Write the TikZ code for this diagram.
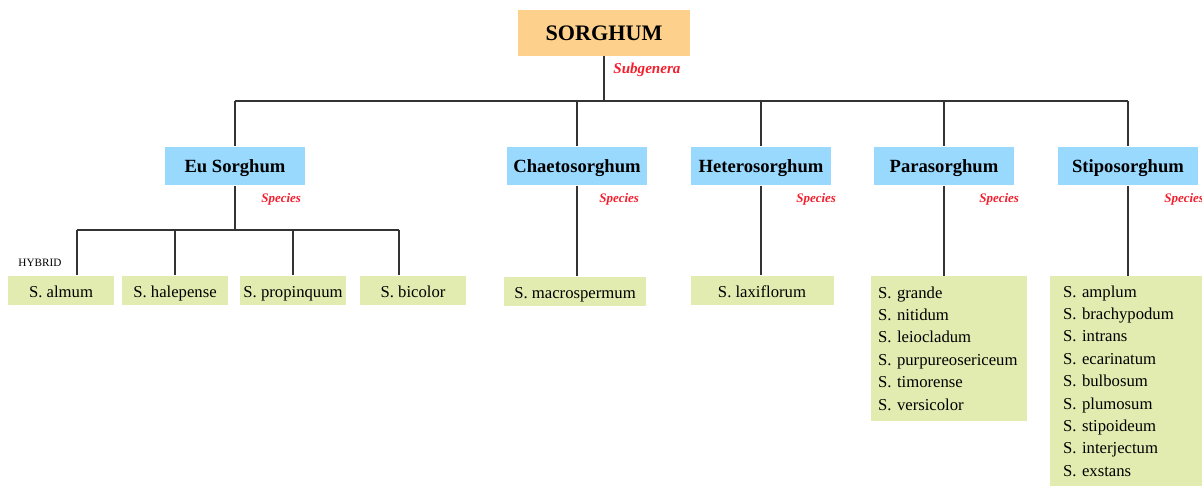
\documentclass[tikz,border=0pt]{standalone}
\usepackage{fontspec}
\setmainfont{Liberation Serif}
\usetikzlibrary{positioning}
\definecolor{genus}{HTML}{FDD18C}
\definecolor{subgenus}{HTML}{99D9FE}
\definecolor{species}{HTML}{E2ECB0}
\definecolor{rank}{HTML}{F51E2D}
\definecolor{linkc}{HTML}{333333}

\begin{document}
\begin{tikzpicture}[x=0.02cm,y=-0.02cm,
    genusbox/.style={fill=genus,minimum width=3.46cm,minimum height=0.92cm,inner sep=0pt,text height=0.85em,text depth=0.05em,font=\fontsize{12.6}{15}\selectfont\bfseries},
    subbox/.style={fill=subgenus,minimum width=2.8cm,minimum height=0.77cm,inner sep=0pt,text height=0.9em,text depth=0.15em,font=\fontsize{10.6}{13}\selectfont\bfseries},
    spbox/.style={fill=species,minimum width=2.12cm,minimum height=0.58cm,inner sep=0pt,text height=0.9em,text depth=0.07em,font=\fontsize{9.5}{12.75}\selectfont},
    listbox/.style={fill=species,align=left,inner ysep=0pt,font=\fontsize{9.5}{12.75}\selectfont},
    ranklabel/.style={text=rank,inner sep=0pt,font=\fontsize{7.4}{9}\selectfont\bfseries\itshape},
    link/.style={draw=linkc,line width=1pt}]
    \useasboundingbox (0,0) rectangle (1202,485);

    \node[genusbox] (root) at (604,33) {SORGHUM};
    \node[ranklabel,font=\fontsize{8.6}{10}\selectfont\bfseries\itshape,below right=0.12cm and 0.18cm of root.south] (subgenera) {Subgenera};

    \foreach \n/\t/\x/\d in {eu/Eu Sorghum/235/0.08, chaeto/Chaetosorghum/577/0.16, hetero/Heterosorghum/761/-0.1, para/Parasorghum/944/-0.1, stipo/Stiposorghum/1128/-0.12}{
      \node[subbox] (\n) at (\x,166) {\t};
      \node[ranklabel,below left=0.16cm and \d cm of \n.south east] (\n-rank) {Species};}

    \coordinate (bar) at (0,101);
    \draw[link] (root.south) -- (root.south |- bar);
    \draw[link] (eu |- bar) -- (stipo |- bar);
    \foreach \n in {eu,chaeto,hetero,para,stipo}
      \draw[link] (\n |- bar) -- (\n.north);

    % Eu Sorghum species
    \foreach \n/\t/\x in {almum/S. almum/61, halepense/S. halepense/175, propinquum/S. propinquum/293, bicolor/S. bicolor/413}
      \node[spbox] (\n) at (\x,290) {\t};
    \node[font=\fontsize{6.4}{8}\selectfont,inner sep=0pt] (hybrid) at (40,263) {HYBRID};
    \coordinate (bar-eu) at (0,230);
    \draw[link] (eu.south) -- (eu.south |- bar-eu);
    \draw[link] ([xshift=0.32cm]almum.north |- bar-eu) -- ([xshift=-0.28cm]bicolor.north |- bar-eu);
    \draw[link] ([xshift=0.32cm]almum.north |- bar-eu) -- ([xshift=0.32cm]almum.north);
    \draw[link] (halepense.north |- bar-eu) -- (halepense.north);
    \draw[link] (propinquum.north |- bar-eu) -- (propinquum.north);
    \draw[link] ([xshift=-0.28cm]bicolor.north |- bar-eu) -- ([xshift=-0.28cm]bicolor.north);

    \node[spbox,minimum width=2.86cm] (macro) at (575,291) {S. macrospermum};
    \node[spbox,minimum width=2.86cm] (laxi) at (762,290) {S. laxiflorum};
    \node[listbox,text width=2.84cm,inner xsep=0.14cm,minimum height=2.9cm] (plist) at (949,348.5)
      {S. grande\\S. nitidum\\S. leiocladum\\S. purpureosericeum\\S. timorense\\S. versicolor};
    \node[listbox,text width=2.6cm,inner xsep=0.26cm,minimum height=4.2cm] (slist) at (1128,381)
      {S. amplum\\S. brachypodum\\S. intrans\\S. ecarinatum\\S. bulbosum\\S. plumosum\\S. stipoideum\\S. interjectum\\S. exstans};

    \draw[link] (chaeto.south) -- (chaeto.south |- macro.north);
    \draw[link] (hetero.south) -- (hetero.south |- laxi.north);
    \draw[link] (para.south) -- (para.south |- plist.north);
    \draw[link] (stipo.south) -- (stipo.south |- slist.north);
\end{tikzpicture}
\end{document}
